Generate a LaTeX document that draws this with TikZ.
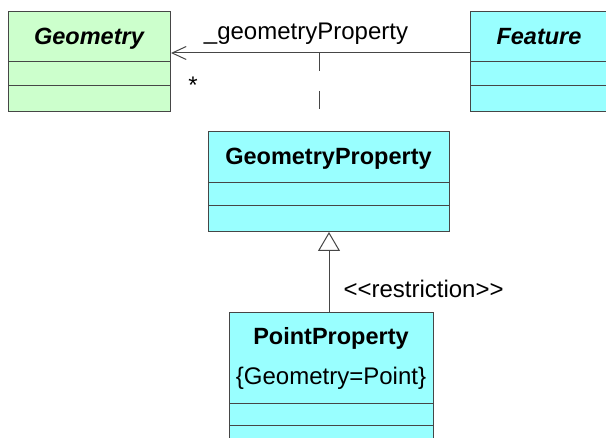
\documentclass[tikz,border=0pt]{standalone}
\usepackage{fontspec}
\setmainfont{Liberation Sans}
\usetikzlibrary{arrows.meta}
\definecolor{umlgreen}{RGB}{204,255,204}
\definecolor{umlcyan}{RGB}{153,255,255}
\definecolor{umlline}{RGB}{70,70,70}
\tikzset{
  classbox/.style={draw=umlline, line width=1pt, anchor=north west, inner sep=0pt},
  classname/.style={anchor=base, font=\fontsize{23.5}{28}\selectfont\bfseries},
  umltext/.style={anchor=base, font=\fontsize{24}{28}\selectfont},
  umlconn/.style={draw=umlline, line width=1pt},
}
\begin{document}
\begin{tikzpicture}[x=1pt, y=-1pt]
  \useasboundingbox (0,0) rectangle (606,438);
  \clip (0,0) rectangle (606,438);
  % classes
  \node[classbox, fill=umlgreen, minimum width=162, minimum height=100] (geometry) at (8,11) {};
  \node[classbox, fill=umlcyan, minimum width=138, minimum height=100] (feature) at (470,11) {};
  \node[classbox, fill=umlcyan, minimum width=241, minimum height=100] (geomprop) at (208,131) {};
  \node[classbox, fill=umlcyan, minimum width=204, minimum height=160] (pointprop) at (229,312) {};
  \foreach \cls/\ya/\yb in {geometry/62/86, feature/62/86, geomprop/183/206, pointprop/404/426} {
    \draw[umlconn] (\cls.west |- 0,\ya) -- (\cls.east |- 0,\ya);
    \draw[umlconn] (\cls.west |- 0,\yb) -- (\cls.east |- 0,\yb);
  }
  \node[classname, font=\fontsize{23.5}{28}\selectfont\bfseries\itshape] (geometryname) at (89,45) {Geometry};
  \node[classname, font=\fontsize{23.5}{28}\selectfont\bfseries\itshape] (featurename) at (539,45) {Feature};
  \node[classname] (geompropname) at (328.5,165) {GeometryProperty};
  \node[classname] (pointpropname) at (331,345) {PointProperty};
  \node[umltext] (pointproptag) at (331,385) {\{Geometry=Point\}};
  % association
  \coordinate (assoc) at (0,53);
  \coordinate (assocmid) at (319,53);
  \draw[umlconn, -{Straight Barb[length=14pt, width=13pt, line width=1pt]}]
    (feature.west |- assoc) -- (geometry.east |- assoc);
  \node[umltext] (rolename) at (306,40) {\_geometryProperty};
  \node[umltext] (multiplicity) at (193,94) {*};
  \draw[umlconn, dash pattern=on 18pt off 20pt, shorten >=3pt] (assocmid) -- (assocmid |- geomprop.north);
  % restriction
  \draw[umlconn, -{Triangle[open, length=19pt, width=22pt, line width=1pt, fill=white]}]
    (geomprop.south |- pointprop.north) -- (geomprop.south);
  \node[umltext, anchor=base west] (stereo) at (340,298) {<\kern0pt<restriction>\kern0pt>};
\end{tikzpicture}
\end{document}
